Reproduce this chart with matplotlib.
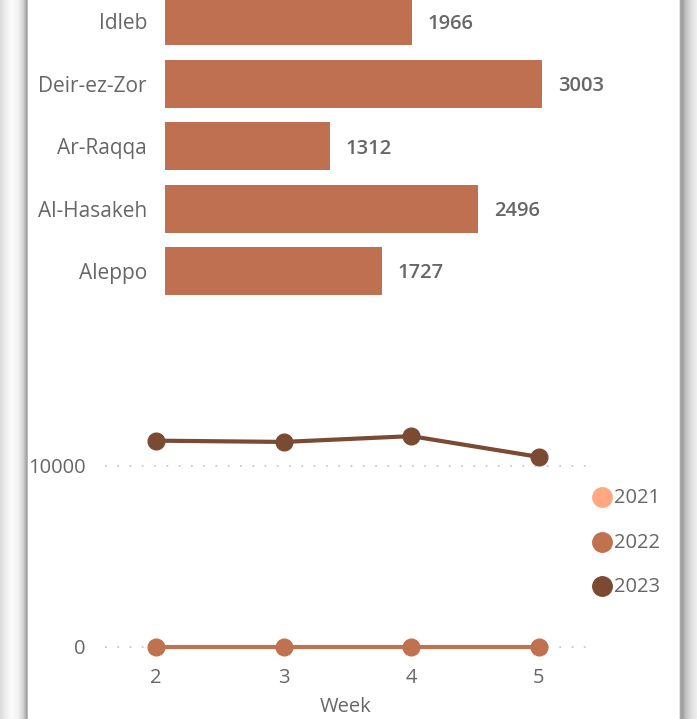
import numpy as np
import matplotlib
matplotlib.use("Agg")
import matplotlib.pyplot as plt
from matplotlib.lines import Line2D

# ---- data ----
regions = ["Idleb", "Deir-ez-Zor", "Ar-Raqqa", "Al-Hasakeh", "Aleppo"]
region_values = [1966, 3003, 1312, 2496, 1727]

weeks = [2, 3, 4, 5]
years = ["2021", "2022", "2023"]
values_2022 = [0, 0, 0, 0]
values_2023 = [11400, 11330, 11650, 10500]

bar_color = "#BF7050"
year_colors = {"2021": "#FFA882", "2022": "#C0714F", "2023": "#7B4A32"}
text_gray = "#666666"

W, H = 697, 719
plt.rcParams['font.family'] = ['Open Sans', 'DejaVu Sans']
fig = plt.figure(figsize=(W / 100, H / 100), dpi=100)

# ---- background with shadowed borders ----
bg = fig.add_axes([0, 0, 1, 1], zorder=-10)
prof = np.ones(W)
xs = np.arange(W)
lp = [(0, 0.86), (5, 0.93), (11, 0.985), (17, 0.95), (22, 0.85), (25, 0.70), (26, 0.64), (27, 0.72)]
lx, lv = zip(*lp)
prof[:28] = np.interp(xs[:28], lx, lv)
rp = [(679, 0.9), (680, 0.66), (682, 0.62), (685, 0.74), (690, 0.86), (696, 0.93)]
rx, rv = zip(*rp)
prof[679:] = np.interp(xs[679:], rx, rv)
img = np.tile(prof, (2, 1))
bg.imshow(img, cmap="gray", vmin=0, vmax=1, aspect="auto", extent=[0, W, 0, H], interpolation="nearest")
bg.set_xlim(0, W)
bg.set_ylim(0, H)
bg.axis("off")

# ---- bar chart ----
pitch = 62.4
top_px, bot_px = 0, 330
left_px, right_px = 165, 600
ax1 = fig.add_axes([left_px / W, 1 - bot_px / H, (right_px - left_px) / W, (bot_px - top_px) / H])
n = len(regions)
ypos = np.arange(n)[::-1]
ax1.barh(ypos, region_values, height=48 / pitch, color=bar_color)
center_aleppo = 271
ax1.set_ylim(-(bot_px - center_aleppo) / pitch, (n - 1) + (center_aleppo - (n - 1) * pitch - top_px) / pitch)
scale = 377 / 3003
ax1.set_xlim(0, (right_px - left_px) / scale)
for y, v in zip(ypos, region_values):
    ax1.text(v + 16 / scale, y - 0.04, f"{v}", va="center", ha="left", fontsize=14.5,
             color=text_gray, fontweight="semibold")
ax1.set_yticks(ypos)
ax1.set_yticklabels(regions, fontsize=15, color=text_gray)
ax1.tick_params(axis="y", length=0, pad=13)
ax1.set_xticks([])
for s in ax1.spines.values():
    s.set_visible(False)
ax1.patch.set_alpha(0)

# ---- line chart ----
l_px, r_px = 105, 587
t_px, b_px = 380, 660
ax2 = fig.add_axes([l_px / W, 1 - b_px / H, (r_px - l_px) / W, (b_px - t_px) / H])
per_week = (539 - 156) / 3
ax2.set_xlim(2 - (156 - l_px) / per_week, 5 + (r_px - 539) / per_week)
per_unit = 181 / 10000
ax2.set_ylim(-(b_px - 647) / per_unit, (647 - t_px) / per_unit)
for yv in [0, 10000]:
    ax2.axhline(yv, color="#C8C8C8", lw=1.3, linestyle=(0, (1, 5.8)), zorder=0)
ax2.plot(weeks, values_2022, color=year_colors["2022"], lw=3, marker="o", ms=12, zorder=3)
ax2.plot(weeks, values_2023, color=year_colors["2023"], lw=3, marker="o", ms=12, zorder=3)
ax2.set_xticks(weeks)
ax2.set_xticklabels([str(w) for w in weeks], fontsize=14.5, color=text_gray)
ax2.set_yticks([0, 10000])
ax2.set_yticklabels(["0", "10000"], fontsize=14.5, color=text_gray)
ax2.tick_params(axis="both", length=0)
ax2.tick_params(axis="y", pad=14)
ax2.tick_params(axis="x", pad=6)
ax2.set_xlabel("Week", fontsize=14.5, color=text_gray, labelpad=6.5)
for s in ax2.spines.values():
    s.set_visible(False)
ax2.patch.set_alpha(0)

# ---- legend ----
leg_x, leg_y0, leg_dy = 602, 497, 44.5
for i, yr in enumerate(years):
    yy = 1 - (leg_y0 + i * leg_dy) / H
    fig.add_artist(Line2D([leg_x / W], [yy], transform=fig.transFigure, marker="o",
                          linestyle="", ms=14, color=year_colors[yr]))
    fig.text(614 / W, yy - 1 / H, yr, fontsize=14.5, color=text_gray, va="center", ha="left")

fig.savefig("out.png", dpi=100)
